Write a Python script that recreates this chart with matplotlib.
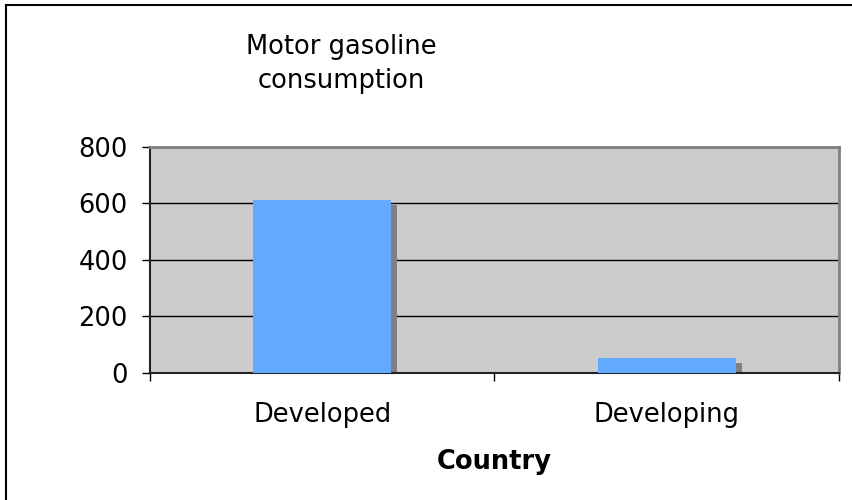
import matplotlib
matplotlib.use("Agg")
import matplotlib.pyplot as plt
import matplotlib.transforms as mtransforms
from matplotlib.lines import Line2D

categories = ["Developed", "Developing"]
values = [611, 53]
yticks = [0, 200, 400, 600, 800]
title = "Motor gasoline\nconsumption"
xlabel = "Country"

plt.rcParams['font.family'] = ['DejaVu Sans']

fig = plt.figure(figsize=(8.53, 5.0), dpi=100)
ax = fig.add_axes([150/853, 1-372.7/500, (839-150)/853, (372.7-147)/500])
ax.set_facecolor('#CCCCCC')

x = list(range(len(categories)))
bw = 0.40
# shadow, offset by a few pixels right and down
shadow_tr = ax.transData + mtransforms.ScaledTranslation(6/100, -5/100, fig.dpi_scale_trans)
ax.bar(x, values, width=bw, color='#808080', transform=shadow_tr, zorder=2, linewidth=0)
ax.bar(x, values, width=bw, color='#62A9FF', zorder=3, linewidth=0)

ax.set_xlim(-0.5, 1.5)
ax.set_ylim(0, 800)
ax.set_yticks(yticks)
ax.yaxis.grid(True, color='black', linewidth=1.0)
ax.set_axisbelow(True)

ax.set_xticks(x)
ax.set_xticklabels(categories, fontsize=18.5)
ax.set_xticks([-0.5, 0.5, 1.5], minor=True)
ax.tick_params(axis='x', which='major', length=0, pad=21)
ax.tick_params(axis='x', which='minor', length=6, width=1.0, color='black', direction='out')
ax.tick_params(axis='y', labelsize=18.5, length=6, width=1.0, pad=10, direction='out')

for s in ['top', 'right']:
    ax.spines[s].set_color('#808080')
    ax.spines[s].set_linewidth(2)
for s in ['left', 'bottom']:
    ax.spines[s].set_color('#222222')
    ax.spines[s].set_linewidth(1.5)

ax.set_xlabel(xlabel, fontsize=18.5, fontweight='bold', labelpad=15)

fig.text(341/853, 1-34/500, title, ha='center', va='top', fontsize=18.5, linespacing=1.38)

# outer border (left and top)
fig.add_artist(Line2D([6/853, 6/853], [0, 1-5/500], transform=fig.transFigure, color='black', lw=1.5))
fig.add_artist(Line2D([6/853, 1], [1-5/500, 1-5/500], transform=fig.transFigure, color='black', lw=1.5))

fig.savefig("out.png", dpi=100)
